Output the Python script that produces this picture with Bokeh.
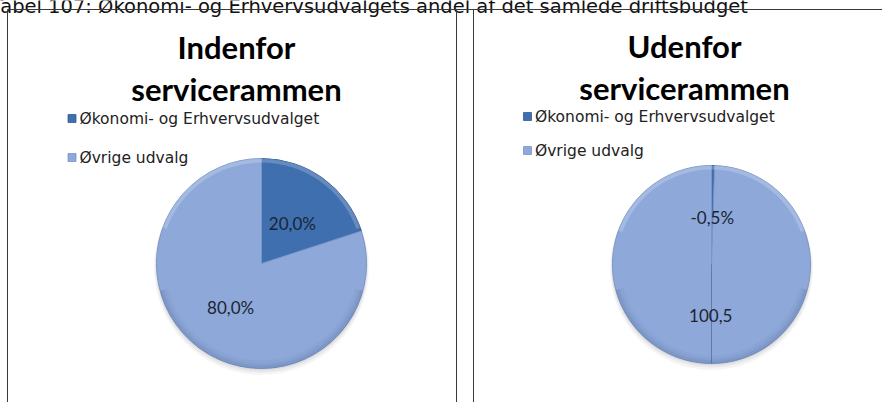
import math
from bokeh.plotting import figure
from bokeh.models import Range1d
from bokeh.core.properties import value
from bokeh.embed import file_html
from bokeh.resources import INLINE

# ---------------- data ----------------
caption = "Tabel 107: Økonomi- og Erhvervsudvalgets andel af det samlede driftsbudget"
categories = ["Økonomi- og Erhvervsudvalget", "Øvrige udvalg"]
titles = [["Indenfor", "servicerammen"], ["Udenfor", "servicerammen"]]
inside_values = [20.0, 80.0]
outside_values = [-0.5, 100.5]
inside_labels = ["20,0%", "80,0%"]
outside_labels = ["-0,5%", "100,5"]

# ---------------- styles ----------------
W, H = 882, 402
slice_colors = ["#3F6FAF", "#8EA9D9"]
edge_colors = ["#2F5A94", "#7A96C8"]
frame_color = "#3A3A3A"

p = figure(width=W, height=H, output_backend="svg", toolbar_location=None,
           x_range=Range1d(0, W), y_range=Range1d(0, H),
           min_border=0, outline_line_color=None, background_fill_color="white")
p.axis.visible = False
p.grid.visible = False


def Y(y):
    return H - y


# caption (cut at top of page)
p.text(x=[-9], y=[Y(6)], text=[caption], text_font=value("DejaVu Sans"),
       text_font_size="19.5px", text_color="#111111", text_baseline="alphabetic")

# table frame
p.segment(x0=[7], y0=[Y(9)], x1=[W], y1=[Y(9)], line_color=frame_color, line_width=1)
p.segment(x0=[7, 456, 473], y0=[Y(9)] * 3, x1=[7, 456, 473], y1=[Y(H)] * 3,
          line_color=frame_color, line_width=1)

panels = [
    dict(values=inside_values, labels=inside_labels, title=titles[0], tx=236,
         tb=[46, 88], lx=71.5, ly=[118, 157], cx=261, cy=263, r=105),
    dict(values=outside_values, labels=outside_labels, title=titles[1], tx=684,
         tb=[45, 87], lx=527, ly=[116, 150], cx=711, cy=264, r=99),
]

for pn in panels:
    # title
    for t, b in zip(pn["title"], pn["tb"]):
        p.text(x=[pn["tx"]], y=[Y(b)], text=[t], text_font=value("Lato"),
               text_font_size="31px", text_font_style="bold", text_color="black",
               text_align="center", text_baseline="alphabetic")
    # legend
    for i, (cat, ly) in enumerate(zip(categories, pn["ly"])):
        p.scatter(x=[pn["lx"]], y=[Y(ly)], marker="square", size=8,
                  fill_color=slice_colors[i], line_color=edge_colors[i], line_width=0.8)
        p.text(x=[pn["lx"] + 7.5], y=[Y(ly)], text=[cat], text_font=value("DejaVu Sans"),
               text_font_size="15.5px", text_color="#222222", text_baseline="middle")
    # pie
    vals = [abs(v) for v in pn["values"]]
    tot = sum(vals)
    cx, cy, r = pn["cx"], Y(pn["cy"]), pn["r"]
    # soft shadow
    for k, a in [(4, 0.08), (2.5, 0.10), (1.2, 0.12)]:
        p.circle(x=[cx], y=[cy - k], radius=r + k * 0.6, fill_color="#808080",
                 fill_alpha=a, line_color=None)
    cum = 0.0
    label_pos = []
    for i, v in enumerate(vals):
        a0 = math.pi / 2 - 2 * math.pi * cum / tot
        a1 = math.pi / 2 - 2 * math.pi * (cum + v) / tot
        p.wedge(x=[cx], y=[cy], radius=r, start_angle=[a0], end_angle=[a1],
                direction="clock", fill_color=slice_colors[i],
                line_color=edge_colors[i], line_width=1)
        mid = 2 * math.pi * (cum + v / 2) / tot
        lr = 0.5 * r
        label_pos.append((cx + lr * math.sin(mid), cy + lr * math.cos(mid) - 2))
        cum += v
    # darker rim at the bottom (bevel look)
    for w_, a in [(8, 0.04), (5, 0.05), (3, 0.06)]:
        p.annular_wedge(x=[cx], y=[cy], inner_radius=r - w_, outer_radius=r,
                        start_angle=[math.radians(195)], end_angle=[math.radians(345)],
                        fill_color="#1F3A6B", fill_alpha=a, line_color=None)
    # seam opposite a very thin slice
    if vals[0] / tot < 0.02:
        p.segment(x0=[cx], y0=[cy], x1=[cx], y1=[cy - r], line_color="#3D5F97",
                  line_alpha=0.6, line_width=1)
    # subtle top highlight ring
    p.annular_wedge(x=[cx], y=[cy], inner_radius=r - 4, outer_radius=r,
                    start_angle=[math.radians(20)], end_angle=[math.radians(160)],
                    fill_color="white", fill_alpha=0.2, line_color=None)
    # labels on top
    for (lx_, ly_), lab in zip(label_pos, pn["labels"]):
        p.text(x=[lx_], y=[ly_], text=[lab], text_font=value("Lato"), text_font_size="17px",
               text_color="#1B2433", text_align="center", text_baseline="middle")

open("out.html", "w").write(file_html(p, INLINE))
